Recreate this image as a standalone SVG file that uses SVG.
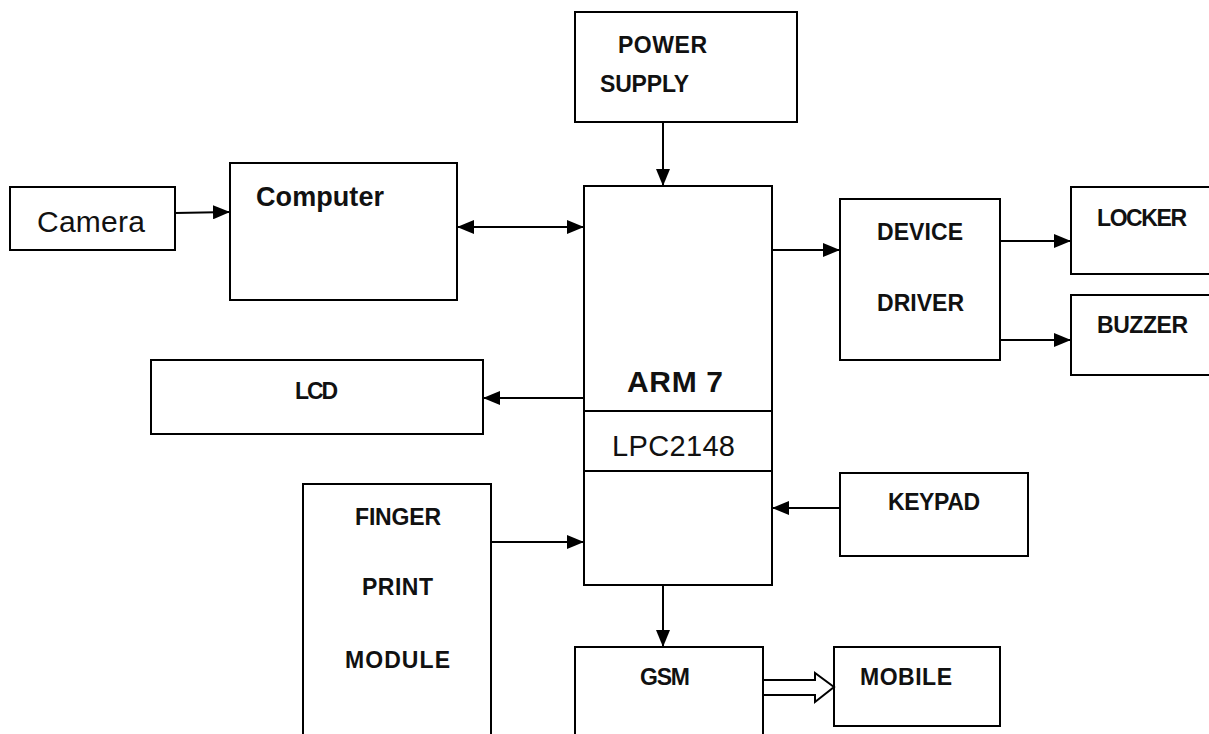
<svg xmlns="http://www.w3.org/2000/svg" width="1209" height="734" viewBox="0 0 1209 734">
<style>
.box{fill:#fff;stroke:#000;stroke-width:2}
.ln{fill:none;stroke:#000;stroke-width:2}
.t{font-family:"Liberation Sans",Arial,sans-serif;font-weight:bold;font-size:23px;fill:#111}
.n{font-family:"Liberation Sans",Arial,sans-serif;font-size:28px;fill:#111}
</style>
<defs>
<marker id="ah" viewBox="0 0 17 14" refX="17" refY="7" markerWidth="17" markerHeight="14" markerUnits="userSpaceOnUse" orient="auto-start-reverse">
<path d="M0,0 L17,7 L0,14 Z" fill="#000"/>
</marker>
</defs>
<rect width="1209" height="734" fill="#fff"/>
<g id="power"><rect class="box" x="575" y="12" width="222" height="110"/><text class="t" x="618" y="53" textLength="89">POWER</text><text class="t" x="600" y="92" textLength="89">SUPPLY</text></g>
<g id="arm"><rect class="box" x="584" y="186" width="188" height="399"/><line class="ln" x1="584" y1="411" x2="772" y2="411"/><line class="ln" x1="584" y1="471" x2="772" y2="471"/><text class="t" x="627" y="392" style="font-size:30px" textLength="96">ARM 7</text><text class="n" x="612" y="456" style="font-size:29px" textLength="123">LPC2148</text></g>
<g id="camera"><rect class="box" x="10" y="187" width="165" height="63"/><text class="n" x="37" y="232" style="font-size:30px" textLength="108">Camera</text></g>
<g id="computer"><rect class="box" x="230" y="163" width="227" height="137"/><text class="n" x="256" y="206" style="font-size:27px;font-weight:bold" textLength="128">Computer</text></g>
<g id="lcd"><rect class="box" x="151" y="360" width="332" height="74"/><text class="t" x="295" y="399" textLength="43">LCD</text></g>
<g id="finger"><rect class="box" x="303" y="484" width="188" height="260"/><text class="t" x="355" y="525" textLength="86">FINGER</text><text class="t" x="362" y="595" textLength="71">PRINT</text><text class="t" x="345" y="668" textLength="105">MODULE</text></g>
<g id="driver"><rect class="box" x="840" y="199" width="160" height="161"/><text class="t" x="877" y="240" textLength="86">DEVICE</text><text class="t" x="877" y="311" textLength="87">DRIVER</text></g>
<g id="locker"><rect class="box" x="1071" y="187" width="145" height="87"/><text class="t" x="1097" y="226" textLength="90">LOCKER</text></g>
<g id="buzzer"><rect class="box" x="1071" y="295" width="145" height="80"/><text class="t" x="1097" y="333" textLength="91">BUZZER</text></g>
<g id="keypad"><rect class="box" x="840" y="473" width="188" height="83"/><text class="t" x="888" y="510" textLength="92">KEYPAD</text></g>
<g id="gsm"><rect class="box" x="575" y="647" width="188" height="97"/><text class="t" x="640" y="685" textLength="50">GSM</text></g>
<g id="mobile"><rect class="box" x="834" y="647" width="166" height="79"/><text class="t" x="860" y="685" textLength="92">MOBILE</text></g>
<g id="connectors">
<line class="ln" x1="663" y1="122" x2="663" y2="186" marker-end="url(#ah)"/>
<line class="ln" x1="175" y1="213" x2="230" y2="212" marker-end="url(#ah)"/>
<line class="ln" x1="457" y1="227" x2="584" y2="227" marker-start="url(#ah)" marker-end="url(#ah)"/>
<line class="ln" x1="584" y1="398" x2="483" y2="398" marker-end="url(#ah)"/>
<line class="ln" x1="491" y1="542" x2="584" y2="542" marker-end="url(#ah)"/>
<line class="ln" x1="772" y1="250" x2="840" y2="250" marker-end="url(#ah)"/>
<line class="ln" x1="1000" y1="241" x2="1071" y2="241" marker-end="url(#ah)"/>
<line class="ln" x1="1000" y1="340" x2="1071" y2="340" marker-end="url(#ah)"/>
<line class="ln" x1="840" y1="508" x2="772" y2="508" marker-end="url(#ah)"/>
<line class="ln" x1="663" y1="585" x2="663" y2="647" marker-end="url(#ah)"/>
<path class="ln" d="M763,680 L815,680 L815,673 L834,687 L815,702 L815,695 L763,695"/>
</g>
</svg>
